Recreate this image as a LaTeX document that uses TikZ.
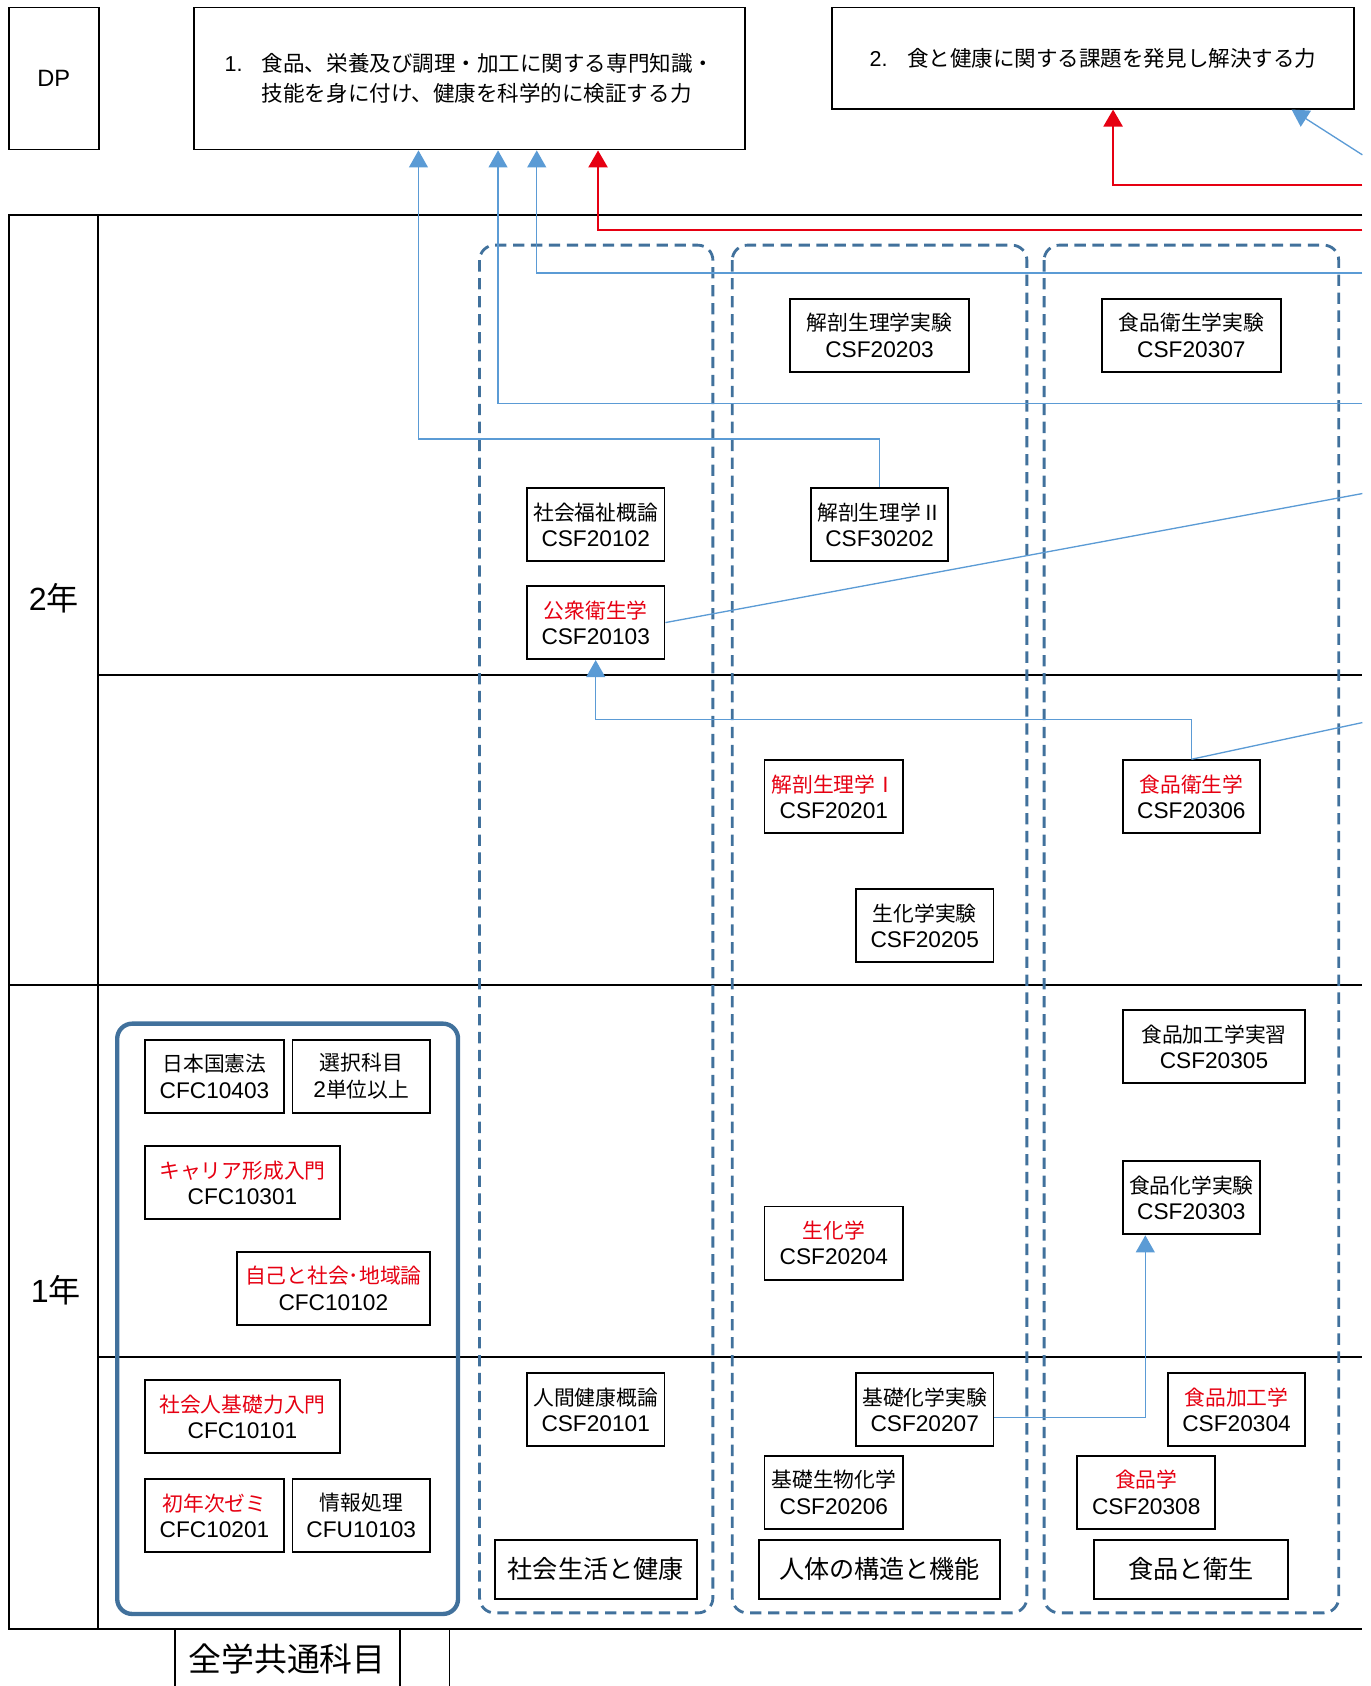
\documentclass[tikz,border=0pt]{standalone}
\usepackage{fontspec}
\setmainfont{Noto Sans CJK JP}
\newfontfamily\latinfont{Liberation Sans}
\usepackage{tikz}
\usetikzlibrary{positioning, arrows.meta, calc}
\definecolor{linkblue}{RGB}{91,155,213}
\definecolor{frameblue}{RGB}{65,113,156}
\definecolor{keyred}{RGB}{230,0,18}
\newcommand{\redname}[1]{\textcolor{keyred}{#1}}
\newcommand{\code}[1]{{\latinfont\fontsize{12}{14}\selectfont #1}}
\tikzset{
  course/.style={rectangle, draw, fill=white, line width=1pt, minimum width=2.56cm, minimum height=1.36cm, inner sep=0pt, align=center, font=\fontsize{11}{14}\selectfont},
  catbox/.style={rectangle, draw, fill=white, line width=1pt, minimum height=1.1cm, inner sep=0pt, font=\fontsize{13.3}{16}\selectfont},
  dpbox/.style={rectangle, draw, line width=1pt, inner sep=0pt, align=center, font=\fontsize{11.4}{16}\selectfont},
  link/.style={-{Triangle[width=10pt, length=9pt]}, linkblue, line width=0.7pt},
  keylink/.style={-{Triangle[width=10pt, length=9pt]}, keyred, line width=1.4pt},
  tline/.style={line width=1pt},
}

\begin{document}
\begin{tikzpicture}[x=0.02cm, y=-0.02cm]
  \tikzset{
    group/.style={draw=frameblue, dash pattern=on 6pt off 3.5pt, line width=1.5pt, rounded corners=0.28cm},
    commonframe/.style={draw=frameblue, line width=2.3pt, rounded corners=0.28cm},
    yearlabel/.style={font=\fontsize{17}{20}\selectfont},
  }
  \useasboundingbox (0,0) rectangle (1275,1568);

  % DP boxes
  \node[dpbox, minimum width=1.68cm, minimum height=2.64cm, font=\latinfont\fontsize{12.5}{14}\selectfont] (dp) at (50,73) {DP};
  \node[dpbox, minimum width=10.26cm, minimum height=2.64cm, align=left] (dp1) at (436.5,73)
    {{\latinfont 1.}\hspace{0.9em}食品、栄養及び調理・加工に関する専門知識・\\\hphantom{{\latinfont 1.}\hspace{0.9em}}技能を身に付け、健康を科学的に検証する力};
  \node[dpbox, minimum width=9.7cm, minimum height=1.88cm] (dp2) at (1016.5,54)
    {{\latinfont 2.}\hspace{0.9em}食と健康に関する課題を発見し解決する力};

  % Table
  \draw[tline] (1267,200) -- (8,200) -- (8,1515) -- (1267,1515);
  \draw[tline] (91,200) -- (91,1515);
  \draw[tline] (91,628) -- (1267,628);
  \draw[tline] (8,916) -- (1267,916);
  \draw[tline] (91,1262) -- (1267,1262);
  \draw[tline] (163,1568) -- (163,1515);
  \draw[tline] (372,1515) -- (372,1568);
  \draw[tline] (418,1568) -- (418,1515);
  \node[yearlabel] (year2) at (50,556) {{\latinfont 2}年};
  \node[yearlabel] (year1) at (52,1200) {{\latinfont 1}年};
  \node[font=\fontsize{17.4}{20}\selectfont] (common) at (267,1543) {全学共通科目};

  % Groups
  \draw[group] (446,228) rectangle (663,1500);
  \draw[group] (681,228) rectangle (955,1500);
  \draw[group] (971,228) rectangle (1245,1500);
  \draw[commonframe] (109,952) rectangle (426,1501);

  % 2nd year courses
  \node[course, minimum width=3.32cm] (anatlab) at (818,312) {解剖生理学実験\\\code{CSF20203}};
  \node[course, minimum width=3.32cm] (foodhyglab) at (1108,312) {食品衛生学実験\\\code{CSF20307}};
  \node[course] (welfare) at (554,488) {社会福祉概論\\\code{CSF20102}};
  \node[course] (anat2) at (818,488) {解剖生理学Ⅱ\\\code{CSF30202}};
  \node[course] (pubhealth) at (554,579) {\redname{公衆衛生学}\\\code{CSF20103}};
  \node[course, minimum width=2.58cm] (anat1) at (775.5,741) {\redname{解剖生理学Ⅰ}\\\code{CSF20201}};
  \node[course] (foodhyg) at (1108,741) {\redname{食品衛生学}\\\code{CSF20306}};
  \node[course] (biochemlab) at (860,861) {生化学実験\\\code{CSF20205}};

  % 1st year courses
  \node[course, minimum width=3.4cm] (foodproclab) at (1129,973.5) {食品加工学実習\\\code{CSF20305}};
  \node[course] (foodchemlab) at (1108,1114) {食品化学実験\\\code{CSF20303}};
  \node[course, minimum width=2.58cm] (biochem) at (775.5,1156) {\redname{生化学}\\\code{CSF20204}};
  \node[course, minimum width=2.58cm] (constitution) at (199.5,1001) {日本国憲法\\\code{CFC10403}};
  \node[course] (elective) at (336,1001) {選択科目\\\code{2}単位以上};
  \node[course, minimum width=3.62cm] (career) at (225.5,1100) {\redname{キャリア形成入門}\\\code{CFC10301}};
  \node[course, minimum width=3.6cm] (selfsociety) at (310,1198) {\redname{自己と社会･地域論}\\\code{CFC10102}};
  \node[course, minimum width=3.62cm] (socialbasic) at (225.5,1317.5) {\redname{社会人基礎力入門}\\\code{CFC10101}};
  \node[course, minimum width=2.58cm] (seminar) at (199.5,1409.5) {\redname{初年次ゼミ}\\\code{CFC10201}};
  \node[course] (infoproc) at (336,1409.5) {情報処理\\\code{CFU10103}};
  \node[course] (humanhealth) at (554,1311) {人間健康概論\\\code{CSF20101}};
  \node[course] (basicchem) at (860,1311) {基礎化学実験\\\code{CSF20207}};
  \node[course, minimum width=2.58cm] (basicbio) at (775.5,1388) {基礎生物化学\\\code{CSF20206}};
  \node[course] (foodproc) at (1150,1311) {\redname{食品加工学}\\\code{CSF20304}};
  \node[course] (foodsci) at (1066,1388) {\redname{食品学}\\\code{CSF20308}};

  % Group labels
  \node[catbox, minimum width=3.76cm] (catsocial) at (554,1459.5) {社会生活と健康};
  \node[catbox, minimum width=4.48cm] (catbody) at (818,1459.5) {人体の構造と機能};
  \node[catbox, minimum width=3.62cm] (catfood) at (1107.5,1459.5) {食品と衛生};

  % Free ends at the right edge
  \coordinate (edgea) at (1267,144);
  \coordinate (edgeb) at (1267,172);
  \coordinate (edgec) at (1267,214);
  \coordinate (edged) at (1267,254);
  \coordinate (edgee) at (1267,375);
  \coordinate (edgef) at (1267,459);
  \coordinate (edgeg) at (1267,672);

  % Links to DP
  \draw[link] (edgea) -- ($(dp2.south west)+(428,0)$);
  \draw[keylink] (edgeb) -| ($(dp2.south west)+(262,0)$);
  \draw[keylink] (edgec) -| ($(dp1.south west)+(377,0)$);
  \draw[link] (edged) -| ($(dp1.south west)+(320,0)$);
  \draw[link] (edgee) -| ($(dp1.south west)+(284,0)$);
  \draw[link] (anat2.north) -- ++(0,-45) -| ($(dp1.south west)+(210,0)$);

  % Links between courses
  \draw[link, -] (pubhealth.east) -- (edgef);
  \draw[link] (foodhyg.north) -- ++(0,-37) -| (pubhealth.south);
  \draw[link, -] (foodhyg.north) -- (edgeg);
  \draw[link] ([yshift=-0.14cm]basicchem.east) -| ($(foodchemlab.south west)+(22,0)$);

\end{tikzpicture}
\end{document}
